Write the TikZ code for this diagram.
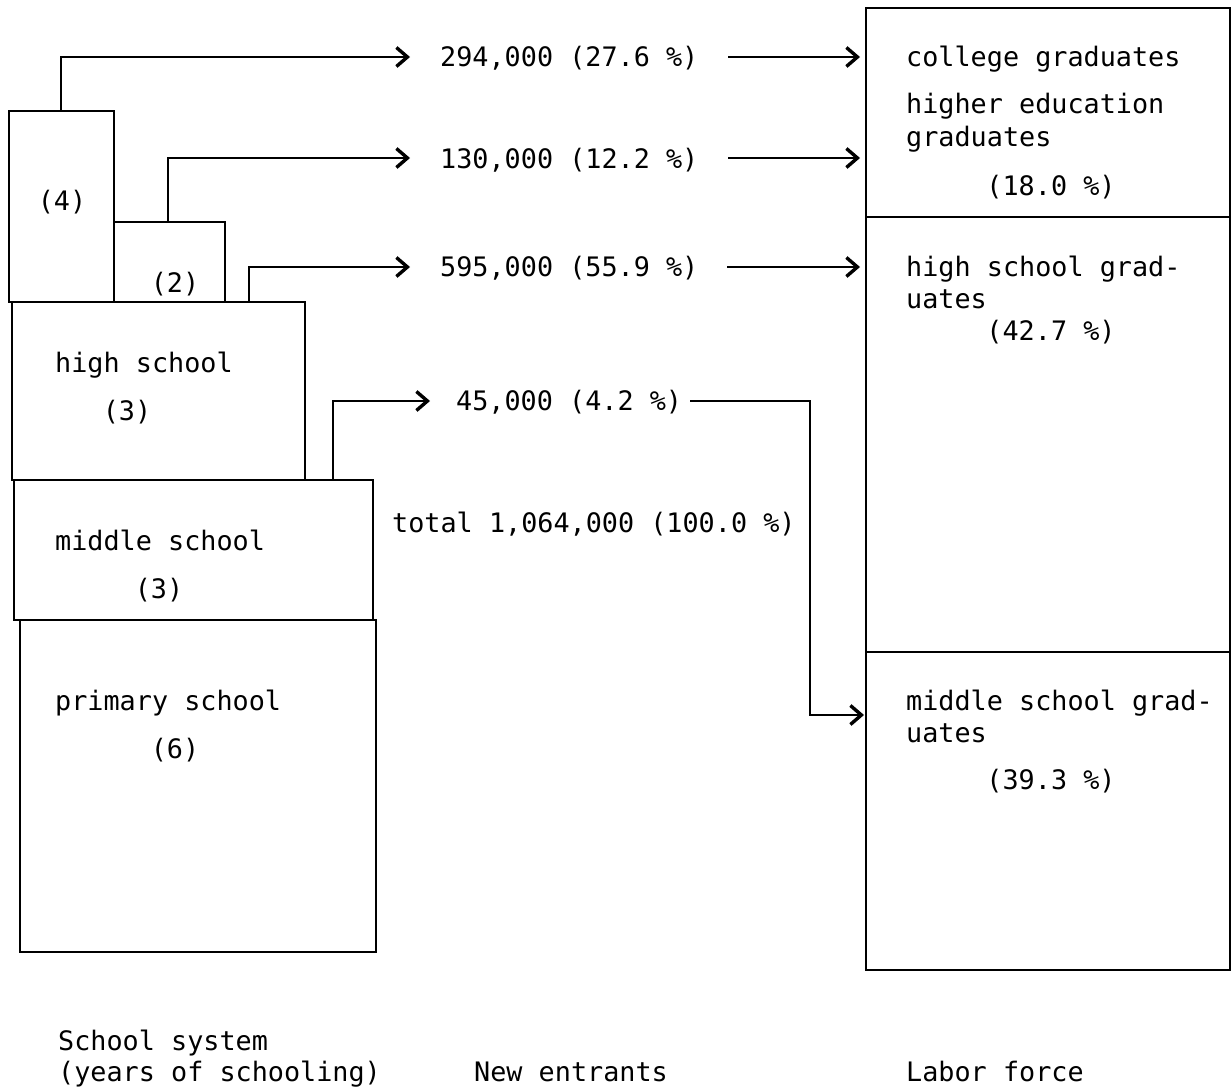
\documentclass[tikz,border=0pt]{standalone}
\usepackage{fontspec}
\newfontfamily\tw{DejaVu Sans Mono}
\usetikzlibrary{arrows.meta}
\begin{document}
\begin{tikzpicture}[x=1pt,y=-1pt,
  box/.style={draw, line width=2.8pt, inner sep=0pt, outer sep=0pt, anchor=north west, rectangle},
  lbl/.style={inner sep=0pt, anchor=base west, font=\tw\fontsize{26.8}{32}\selectfont},
  clbl/.style={inner sep=0pt, anchor=base, font=\tw\fontsize{26.8}{32}\selectfont},
  arr/.style={line width=2.8pt, -{Straight Barb[length=11pt,width=19pt,line width=3.4pt]}}]
\useasboundingbox (0,0) rectangle (1232,1089);

% school system boxes
\node[box, minimum width=105pt, minimum height=191pt] (b4) at (9,111) {};
\node[box, minimum width=111pt, minimum height=80pt] (b2) at (114,222) {};
\node[box, minimum width=293pt, minimum height=178pt] (hs) at (12,302) {};
\node[box, minimum width=359pt, minimum height=140pt] (ms) at (14,480) {};
\node[box, minimum width=356pt, minimum height=332pt] (ps) at (20,620) {};

% labor force boxes
\node[box, minimum width=364pt, minimum height=209pt] (lf1) at (866,8) {};
\node[box, minimum width=364pt, minimum height=435pt] (lf2) at (866,217) {};
\node[box, minimum width=364pt, minimum height=318pt] (lf3) at (866,652) {};

% texts in school boxes
\node[clbl] (t4) at (62,211) {(4)};
\node[clbl] (t2) at (175,292) {(2)};
\node[lbl] (ths) at (55,372) {high school};
\node[clbl] (ths3) at (127,420) {(3)};
\node[lbl] (tms) at (55,550) {middle school};
\node[clbl] (tms3) at (159,598) {(3)};
\node[lbl] (tps) at (55,710) {primary school};
\node[clbl] (tps6) at (175,758) {(6)};

% new entrants
\node[lbl] (n1) at (440,67) {294,000 (27.6 \%)};
\node[lbl] (n2) at (440,168) {130,000 (12.2 \%)};
\node[lbl] (n3) at (440,276) {595,000 (55.9 \%)};
\node[lbl] (n4) at (456,410) {45,000 (4.2 \%)};
\node[lbl] (ntot) at (392,532) {total 1,064,000 (100.0 \%)};

% labor force texts
\node[lbl] (l1) at (906,67) {college graduates};
\node[lbl] (l2) at (906,114) {higher education};
\node[lbl] (l3) at (906,147) {graduates};
\node[clbl] (l4) at (1051,195) {(18.0 \%)};
\node[lbl] (l5) at (906,276) {high school grad-};
\node[lbl] (l6) at (906,308) {uates};
\node[clbl] (l7) at (1051,340) {(42.7 \%)};
\node[lbl] (l8) at (906,710) {middle school grad-};
\node[lbl] (l9) at (906,742) {uates};
\node[clbl] (l10) at (1051,789) {(39.3 \%)};

% column titles
\node[lbl] (c1a) at (58,1050) {School system};
\node[lbl] (c1b) at (58,1081) {(years of schooling)};
\node[lbl] (c2) at (474,1081) {New entrants};
\node[lbl] (c3) at (906,1081) {Labor force};

% connector coordinates
\coordinate (s1) at (61,111);
\coordinate (s2) at (168,222);
\coordinate (s3) at (249,302);
\coordinate (s4) at (333,480);
\coordinate (a1) at (410,57);
\coordinate (a2) at (410,158);
\coordinate (a3) at (410,267);
\coordinate (a4) at (430,401);
\coordinate (e1) at (728,57);
\coordinate (e2) at (728,158);
\coordinate (e3) at (727,267);
\coordinate (e4) at (690,401);
\coordinate (f1) at (860,57);
\coordinate (f2) at (860,158);
\coordinate (f3) at (860,267);
\coordinate (k4) at (810,401);
\coordinate (f4) at (864,715);

\draw[arr] (s1) |- (a1);
\draw[arr] (s2) |- (a2);
\draw[arr] (s3) |- (a3);
\draw[arr] (s4) |- (a4);
\draw[arr] (e1) -- (f1);
\draw[arr] (e2) -- (f2);
\draw[arr] (e3) -- (f3);
\draw[arr] (e4) -- (k4) |- (f4);
\end{tikzpicture}
\end{document}
